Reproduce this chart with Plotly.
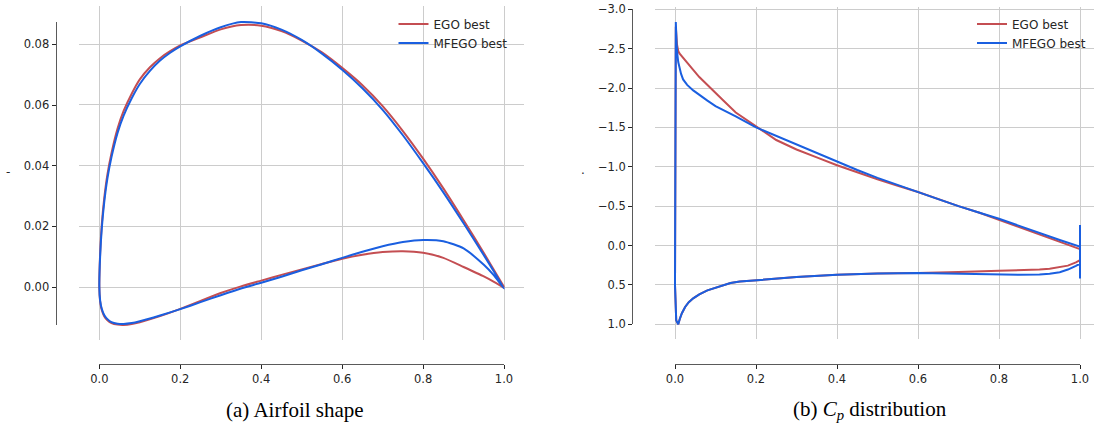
import plotly.graph_objects as go

# ---------------- data ----------------
# Airfoil shape: upper surface (TE -> LE), then lower surface (LE -> TE)
af_up_x = [1.0, 0.95, 0.9, 0.85, 0.8, 0.75, 0.7, 0.65, 0.6, 0.55, 0.5, 0.45, 0.4, 0.35, 0.3,
           0.25, 0.2, 0.175, 0.15, 0.125, 0.1, 0.08, 0.06, 0.045, 0.03, 0.02, 0.012, 0.006, 0.002, 0.0]
af_up_ego = [0.0, 0.0112, 0.0220, 0.0325, 0.0423, 0.0514, 0.0596, 0.0665, 0.0722, 0.0773, 0.0812,
             0.0843, 0.0861, 0.0863, 0.0849, 0.0823, 0.0796, 0.0777, 0.0754, 0.0724, 0.0684, 0.0637,
             0.0580, 0.0522, 0.0441, 0.0371, 0.0291, 0.0205, 0.0112, 0.0]
af_up_mfego = [-0.0005, 0.0105, 0.0210, 0.0312, 0.0408, 0.0500, 0.0584, 0.0655, 0.0716, 0.0769, 0.0814,
               0.0848, 0.0869, 0.0873, 0.0856, 0.0828, 0.0793, 0.0772, 0.0746, 0.0712, 0.0669, 0.0622,
               0.0565, 0.0508, 0.0428, 0.0358, 0.0278, 0.0192, 0.0102, 0.0]
af_lo_x = [0.002, 0.006, 0.012, 0.02, 0.03, 0.045, 0.06, 0.08, 0.1, 0.15, 0.2, 0.25, 0.3, 0.35,
           0.4, 0.45, 0.5, 0.55, 0.6, 0.65, 0.7, 0.75, 0.8, 0.85, 0.9, 0.95, 0.975, 1.0]
af_lo_ego = [-0.0048, -0.0076, -0.0096, -0.0110, -0.0119, -0.0124, -0.0125, -0.0122, -0.0116, -0.0096,
             -0.0072, -0.0046, -0.0020, 0.0002, 0.0021, 0.0040, 0.0058, 0.0076, 0.0093, 0.0106, 0.0115,
             0.0118, 0.0113, 0.0096, 0.0066, 0.0035, 0.0017, -0.0003]
af_lo_mfego = [-0.0045, -0.0072, -0.0092, -0.0106, -0.0116, -0.0121, -0.0122, -0.0119, -0.0113, -0.0094,
               -0.0073, -0.0050, -0.0027, -0.0005, 0.0014, 0.0034, 0.0055, 0.0075, 0.0096, 0.0116, 0.0134,
               0.0148, 0.0155, 0.0151, 0.0127, 0.0073, 0.0038, -0.0005]

# Cp distribution (y axis reversed): TE -> upper surface -> LE -> lower surface -> TE
cp_x_ego = [1.0, 0.95, 0.9, 0.85, 0.8, 0.75, 0.7, 0.65, 0.6, 0.55, 0.5, 0.45, 0.4, 0.35, 0.3, 0.25,
            0.2, 0.15, 0.12, 0.1, 0.08, 0.06, 0.045, 0.03, 0.02, 0.011, 0.008, 0.005, 0.002,
            0.0, 0.0, 0.003, 0.008, 0.012, 0.017, 0.025, 0.034, 0.045, 0.06, 0.08, 0.1, 0.12, 0.137, 0.16,
            0.2, 0.25, 0.3, 0.4, 0.5, 0.6, 0.65, 0.7, 0.8, 0.85, 0.9, 0.925, 0.95, 0.97, 0.99, 1.0]
cp_ego = [0.045, -0.05, -0.14, -0.24, -0.33, -0.42, -0.50, -0.59, -0.68, -0.76, -0.84, -0.93, -1.02,
          -1.12, -1.22, -1.34, -1.51, -1.69, -1.84, -1.94, -2.03, -2.14, -2.23, -2.32, -2.38, -2.44,
          -2.47, -2.55, -2.78,
          -1.0, 0.5, 0.95, 1.0, 0.93, 0.86, 0.78, 0.72, 0.67, 0.62, 0.57, 0.535, 0.497, 0.475, 0.458,
          0.44, 0.42, 0.40, 0.37, 0.355, 0.35, 0.345, 0.335, 0.32, 0.315, 0.305, 0.295, 0.278, 0.255,
          0.215, 0.185]
cp_x_mfego = [1.0, 1.0, 1.0, 0.95, 0.9, 0.85, 0.8, 0.75, 0.7, 0.65, 0.6, 0.55, 0.5, 0.45, 0.4, 0.35,
              0.3, 0.25, 0.2, 0.15, 0.12, 0.1, 0.08, 0.06, 0.045, 0.03, 0.02, 0.015, 0.011, 0.008,
              0.006, 0.004, 0.002,
              0.0, 0.0, 0.003, 0.008, 0.012, 0.017, 0.025, 0.034, 0.045, 0.06, 0.08, 0.1, 0.12, 0.137, 0.16,
              0.2, 0.25, 0.3, 0.4, 0.5, 0.6, 0.7, 0.8, 0.85, 0.9, 0.925, 0.95, 0.97, 0.99, 1.0]
cp_mfego = [0.42, -0.26, 0.015, -0.07, -0.16, -0.25, -0.34, -0.42, -0.50, -0.59, -0.68, -0.77, -0.86,
            -0.96, -1.07, -1.17, -1.28, -1.39, -1.50, -1.64, -1.72, -1.77, -1.84, -1.91, -1.97, -2.04,
            -2.11, -2.18, -2.26, -2.33, -2.42, -2.55, -2.84,
            -1.0, 0.5, 0.95, 1.0, 0.93, 0.86, 0.78, 0.72, 0.67, 0.62, 0.57, 0.535, 0.497, 0.475, 0.458,
            0.44, 0.42, 0.40, 0.37, 0.355, 0.35, 0.36, 0.37, 0.372, 0.368, 0.358, 0.338, 0.305, 0.258, 0.23]

series_names = ["EGO best", "MFEGO best"]
x_ticks_fmt = ".1f"

# ---------------- styling ----------------
W, H = 1094, 425
RED = "#c44e52"
BLUE = "#1a5fe0"
GRID = "#cccccc"
SPINE = "#5a5a5a"
TXT = "#262626"
TICKFONT = dict(family="DejaVu Sans", size=11.5, color=TXT)


def px(p):
    return p / W


def py(p):
    return 1 - p / H


fig = go.Figure()

fig.add_trace(go.Scatter(x=af_up_x + af_lo_x, y=af_up_ego + af_lo_ego, mode="lines",
                         name=series_names[0], line=dict(color=RED, width=2, shape="spline", smoothing=0.6),
                         xaxis="x", yaxis="y", legend="legend"))
fig.add_trace(go.Scatter(x=af_up_x + af_lo_x, y=af_up_mfego + af_lo_mfego, mode="lines",
                         name=series_names[1], line=dict(color=BLUE, width=2, shape="spline", smoothing=0.6),
                         xaxis="x", yaxis="y", legend="legend"))
fig.add_trace(go.Scatter(x=cp_x_ego, y=cp_ego, mode="lines", name=series_names[0],
                         line=dict(color=RED, width=2), xaxis="x2", yaxis="y2", legend="legend2"))
fig.add_trace(go.Scatter(x=cp_x_mfego, y=cp_mfego, mode="lines", name=series_names[1],
                         line=dict(color=BLUE, width=2), xaxis="x2", yaxis="y2", legend="legend2"))
# carrier traces for the offset (trimmed) spine axes
fig.add_trace(go.Scatter(x=[None], y=[None], xaxis="x3", yaxis="y3", showlegend=False, hoverinfo="skip"))
fig.add_trace(go.Scatter(x=[None], y=[None], xaxis="x4", yaxis="y4", showlegend=False, hoverinfo="skip"))

grid_ax = dict(showgrid=True, gridcolor=GRID, gridwidth=1, showticklabels=False, ticks="",
               showline=False, zeroline=False, fixedrange=True, automargin=False)
spine_ax = dict(showgrid=False, zeroline=False, showline=True, linecolor=SPINE, linewidth=1.3,
                ticks="outside", ticklen=4, tickwidth=1.1, tickcolor=TXT, tickfont=TICKFONT,
                anchor="free", fixedrange=True, automargin=False)

fig.update_layout(
    template="none",
    width=W, height=H, margin=dict(l=0, r=0, t=0, b=0, pad=0), autosize=False,
    paper_bgcolor="white", plot_bgcolor="rgba(0,0,0,0)",
    xaxis=dict(grid_ax, domain=[px(79.1), px(524.3)], range=[-0.05, 1.05], tick0=0, dtick=0.2, anchor="y"),
    yaxis=dict(grid_ax, domain=[py(340.1), py(6.3)], range=[-0.0175, 0.0925], tick0=0, dtick=0.02, anchor="x"),
    xaxis2=dict(grid_ax, domain=[px(654.75), 1.0], range=[-0.05, (W - 675) / 405], tick0=0, dtick=0.2, anchor="y2"),
    yaxis2=dict(grid_ax, domain=[py(339.4), py(6.8)], range=[1.192, -3.032], tick0=0, dtick=0.5, anchor="x2"),
    xaxis3=dict(spine_ax, domain=[px(99.3), px(504)], range=[0, 1], tick0=0, dtick=0.2,
                tickformat=x_ticks_fmt, position=py(363.7), side="bottom"),
    yaxis3=dict(spine_ax, domain=[py(325), py(21.7)], range=[-0.0125, 0.0875], tick0=0, dtick=0.02,
                tickformat=".2f", position=px(55.7), side="left"),
    xaxis4=dict(spine_ax, domain=[px(675), px(1080)], range=[0, 1], tick0=0, dtick=0.2,
                tickformat=x_ticks_fmt, position=py(364), side="bottom"),
    yaxis4=dict(spine_ax, domain=[py(324.3), py(9.3)], range=[1.0, -3.0], tick0=0, dtick=0.5,
                tickformat=".1f", position=px(632.3), side="left"),
    legend=dict(x=px(393.5), y=py(9.5), xanchor="left", yanchor="top", bgcolor="rgba(0,0,0,0)",
                font=dict(family="DejaVu Sans", size=12, color=TXT), tracegroupgap=0, itemwidth=30),
    legend2=dict(x=px(972), y=py(9.5), xanchor="left", yanchor="top", bgcolor="rgba(0,0,0,0)",
                 font=dict(family="DejaVu Sans", size=12, color=TXT), tracegroupgap=0, itemwidth=30),
    showlegend=True,
    annotations=[
        dict(text="(a) Airfoil shape", x=px(295), y=py(410), xref="paper", yref="paper",
             xanchor="center", yanchor="middle", showarrow=False,
             font=dict(family="Liberation Serif", size=21, color="black")),
        dict(text="(b) <i>C<sub>p</sub></i> distribution", x=px(870), y=py(410), xref="paper", yref="paper",
             xanchor="center", yanchor="middle", showarrow=False,
             font=dict(family="Liberation Serif", size=21, color="black")),
        dict(text="-", x=px(8), y=py(172), xref="paper", yref="paper", xanchor="center", yanchor="middle",
             showarrow=False, font=dict(family="DejaVu Sans", size=12, color=TXT)),
        dict(text=".", x=px(583), y=py(170), xref="paper", yref="paper", xanchor="center", yanchor="middle",
             showarrow=False, font=dict(family="DejaVu Sans", size=12, color=TXT)),
    ],
)

fig.write_html("out.html", config={"displayModeBar": False},
               post_script="document.body.style.margin='0';document.body.style.overflow='hidden';")
